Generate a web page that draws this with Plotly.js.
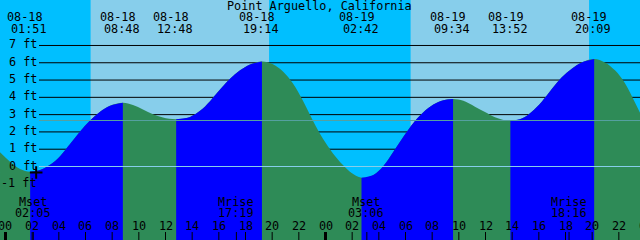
<!DOCTYPE html>
<html><head><meta charset="utf-8">
<script src="https://cdn.plot.ly/plotly-3.0.1.min.js"></script>
<style>html,body{margin:0;padding:0;background:#fff;}#chart{width:640px;height:240px;}</style>
</head><body><div id="chart"></div>
<script>
// ---------------- data ----------------
const chartTitle = "Point Arguello, California";

// tide extrema
const eventDates   = ["08-18","08-18","08-18","08-18","08-19","08-19","08-19","08-19"];
const eventTimes   = ["01:51","08:48","12:48","19:14","02:42","09:34","13:52","20:09"];
const eventTypes   = ["low","high","low","high","low","high","low","high"];
const eventHeights = [-0.30, 3.69, 2.74, 6.07, -0.65, 3.90, 2.63, 6.22];

// tide curve samples (hours since 08-18 00:00, feet)
const curveHours = [-0.41,0.34,1.09,2.59,3.34,4.09,4.84,5.59,6.34,7.09,7.84,
  9.56,10.31,11.06,11.81,13.84,14.59,15.34,16.09,16.84,17.59,18.34,
  20.06,20.81,21.56,22.31,23.06,23.81,24.56,25.31,25.96,
  27.59,28.34,29.09,29.84,30.59,31.34,32.09,32.84,
  34.34,35.21,35.96,36.71,38.72,39.47,40.22,40.97,41.72,42.47,43.22,
  44.96,45.71,46.46,47.21,47.59];
const curveFeet = [0.82,0.28,-0.14,-0.20,0.10,0.60,1.30,2.02,2.66,3.17,3.52,
  3.56,3.30,3.02,2.84,2.87,3.22,3.78,4.45,5.08,5.56,5.90,
  5.92,5.50,4.80,3.80,2.65,1.60,0.75,0.08,-0.38,
  -0.49,0.03,0.86,1.72,2.52,3.14,3.58,3.83,
  3.80,3.46,3.15,2.85,2.77,3.17,3.75,4.48,5.16,5.66,6.02,
  6.02,5.56,4.82,3.70,3.10];

const sunriseTimes = ["08-18 06:23","08-19 06:23"];
const sunsetTimes  = ["08-18 19:46","08-19 19:46"];

const moonLabels = ["Mset","Mrise","Mset","Mrise"];
const moonTimes  = ["08-18 02:05","08-18 17:19","08-19 03:06","08-19 18:16"];

const yTickFeet   = [7,6,5,4,3,2,1,0,-1];
const hourTicks   = [0,2,4,6,8,10,12,14,16,18,20,22,24,26,28,30,32,34,36,38,40,42,44,46,48];
const hourLabels  = ["00","02","04","06","08","10","12","14","16","18","20","22","00","02","04","06","08","10","12","14","16","18","20","22","00"];
const meanLevelFeet = 2.66;
const markHours = [2.3];
const markFeet  = [-0.35];

// ---------------- helpers ----------------
const W = 640, H = 240;
const X0 = -0.4125, X1 = X0 + 48;          // visible window in hours
const FT_PX = 17.29, ZERO_PX = 166.5;       // vertical scale
const Y1 = ZERO_PX / FT_PX, Y0 = -(H - ZERO_PX) / FT_PX;
function toHours(s){ const [d,t]=s.split(' '); const day=+d.split('-')[1]-18; const [hh,mm]=t.split(':').map(Number); return day*24+hh+mm/60; }
const px = h => (h - X0) / (X1 - X0) * W;
const fx = p => p / W;            // paper x
const fy = p => 1 - p / H;        // paper y from top pixel

const evH = eventDates.map((d,i)=>toHours(d+' '+eventTimes[i]));
// merge curve samples + extrema
let pts = curveHours.map((h,i)=>[h,curveFeet[i]]).concat(evH.map((h,i)=>[h,eventHeights[i]]));
pts.sort((a,b)=>a[0]-b[0]);
const allX = pts.map(p=>p[0]), allY = pts.map(p=>p[1]);

const DAY='#87CEEB', NIGHT='#00BFFF', FLOOD='#0000FF', EBB='#2E8B57';
const FONT = {family:'DejaVu Sans Mono', size:11.8, color:'#000'};

const traces = [];
// full-width underlay (ebb colour)
traces.push({x:[X0,X1], y:[Y0,Y0], mode:'lines', line:{width:0}, hoverinfo:'skip'});
traces.push({x:allX, y:allY, mode:'lines', fill:'tonexty', fillcolor:EBB,
  line:{width:0, shape:'spline', smoothing:1}, hoverinfo:'skip'});
// rising (flood) segments
for(let i=0;i<evH.length-1;i++){
  if(eventTypes[i]!=='low') continue;
  const a=evH[i], b=evH[i+1];
  const sx=[], sy=[];
  pts.forEach(p=>{ if(p[0]>=a-1e-9 && p[0]<=b+1e-9){ sx.push(p[0]); sy.push(p[1]); } });
  traces.push({x:[a,b], y:[Y0,Y0], mode:'lines', line:{width:0}, hoverinfo:'skip'});
  traces.push({x:sx, y:sy, mode:'lines', fill:'tonexty', fillcolor:FLOOD,
    line:{width:0, shape:'spline', smoothing:1}, hoverinfo:'skip'});
}
// mark
traces.push({x:markHours, y:markFeet, mode:'markers',
  marker:{symbol:'cross-thin', size:9, line:{width:2,color:'#000'}}, hoverinfo:'skip'});

const shapes = [];
shapes.push({type:'rect', layer:'below', xref:'paper', yref:'paper', x0:0, x1:1, y0:0, y1:1, fillcolor:NIGHT, line:{width:0}});
sunriseTimes.forEach((s,i)=>{
  shapes.push({type:'rect', layer:'below', xref:'x', yref:'paper', x0:toHours(s), x1:toHours(sunsetTimes[i]), y0:0, y1:1, fillcolor:DAY, line:{width:0}});
});
yTickFeet.forEach(f=>{
  if(f===0) return;
  shapes.push({type:'line', layer:'below', xref:'paper', yref:'y', x0:fx(39), x1:1, y0:f, y1:f, line:{color:'#000', width:1}});
});
shapes.push({type:'line', layer:'above', xref:'paper', yref:'y', x0:fx(39), x1:1, y0:0, y1:0, line:{color:'#87CEEB', width:1}});
shapes.push({type:'line', layer:'above', xref:'paper', yref:'y', x0:fx(39), x1:1, y0:meanLevelFeet, y1:meanLevelFeet, line:{color:'#55A0A0', width:1}});
hourTicks.forEach(h=>{
  shapes.push({type:'line', layer:'above', xref:'x', yref:'paper', x0:h, x1:h, y0:0, y1:fy(232), line:{color:'#000', width:(h%24===0)?3:1}});
});
moonTimes.forEach(s=>{
  const h=toHours(s);
  shapes.push({type:'line', layer:'above', xref:'x', yref:'paper', x0:h, x1:h, y0:0, y1:fy(232), line:{color:'#000', width:1}});
});

const ann = [];
function txt(text, xPx, yPx, xanchor){
  ann.push({text:text, xref:'paper', yref:'paper', x:fx(xPx), y:fy(yPx), xanchor:xanchor||'center', yanchor:'middle',
    showarrow:false, font:FONT, borderpad:0, borderwidth:0});
}
txt(chartTitle, 319.5, 6);
yTickFeet.forEach(f=>{ txt(f+' ft', 36.5, ZERO_PX - f*FT_PX - 1, 'right'); });
evH.forEach((h,i)=>{ const p=px(h); txt(eventDates[i], p-4.8, 17); txt(eventTimes[i], p-0.7, 29); });
moonTimes.forEach((s,i)=>{ const p=px(toHours(s)); txt(moonLabels[i], p-0.5, 202); txt(s.split(' ')[1], p-0.5, 213); });
hourTicks.forEach((h,i)=>{ txt(hourLabels[i], px(h), 226); });

const layout = {
  width:W, height:H, margin:{l:0,r:0,t:0,b:0}, paper_bgcolor:'#fff', plot_bgcolor:'rgba(0,0,0,0)',
  showlegend:false,
  xaxis:{range:[X0,X1], visible:false, fixedrange:true},
  yaxis:{range:[Y0,Y1], visible:false, fixedrange:true},
  shapes:shapes, annotations:ann
};
Plotly.newPlot('chart', traces, layout, {staticPlot:true, displayModeBar:false});
</script></body></html>
